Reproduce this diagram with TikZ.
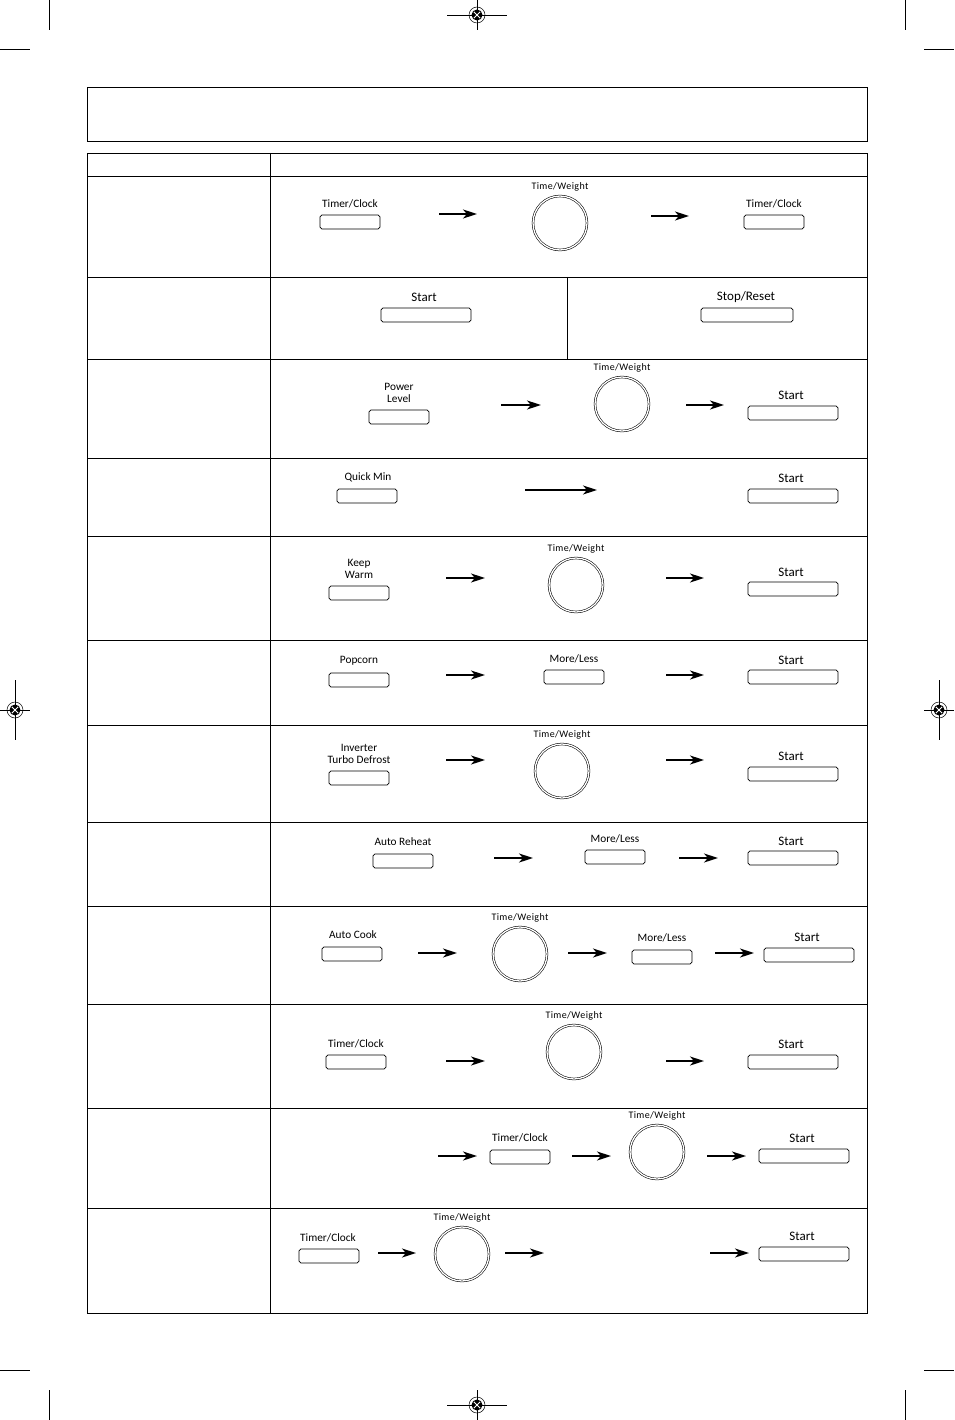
\documentclass[tikz,border=0pt]{standalone}
\usepackage{fontspec}
\setmainfont{Carlito}
\usetikzlibrary{arrows.meta}
\begin{document}
\begin{tikzpicture}[x=1pt,y=-1pt,
 btn/.style={draw, rounded corners=1.8pt, line width=0.7pt, minimum width=60pt, minimum height=14pt, inner sep=0pt},
 widebtn/.style={btn, minimum width=90pt},
 lbl/.style={font=\fontsize{11.3}{12}\selectfont, inner sep=0pt, align=center},
 slbl/.style={font=\fontsize{13}{13}\selectfont, inner sep=0pt},
 dlbl/.style={font=\fontsize{10}{10}\selectfont\addfontfeature{LetterSpace=4}, inner sep=0pt},
 dial/.style={circle, draw, double, double distance=1.3pt, line width=0.55pt, minimum size=54pt, inner sep=0pt},
 arr/.style={line width=1.7pt, -{Stealth[length=14pt,width=9pt,inset=4pt]}},
 frame/.style={line width=0.9pt},
 cropline/.style={line width=0.7pt},
 regmark/.pic={
   \draw[cropline] (-30,0) -- (30,0) (0,-15) -- (0,15);
   \draw[line width=0.5pt] (0,0) circle (8);
   \fill (0,0) circle (5.5);
   \draw[white, line width=1pt] (-3.2,-3.2) -- (3.2,3.2) (-3.2,3.2) -- (3.2,-3.2);
 },
 regmarkv/.pic={
   \draw[cropline] (-15,0) -- (15,0) (0,-30) -- (0,30);
   \draw[line width=0.5pt] (0,0) circle (8);
   \fill (0,0) circle (5.5);
   \draw[white, line width=1pt] (-3.2,-3.2) -- (3.2,3.2) (-3.2,3.2) -- (3.2,-3.2);
 },
]
\useasboundingbox (0,0) rectangle (954,1420);
% crop marks
\draw[cropline] (49,0) -- (49,30) (0,49) -- (30,49);
\draw[cropline] (905,0) -- (905,30) (924,49) -- (954,49);
\draw[cropline] (49,1390) -- (49,1420) (0,1370) -- (30,1370);
\draw[cropline] (905,1390) -- (905,1420) (924,1370) -- (954,1370);
\pic at (477,15) {regmark};
\pic at (477,1405) {regmark};
\pic at (15,710) {regmarkv};
\pic at (939,710) {regmarkv};
% frames
\draw[frame] (87,87) rectangle (867,141);
\draw[frame] (87,153) rectangle (867,1313);
\draw[frame] (270,153) -- (270,1313);
\foreach \y in {176,277,359,458,536,640,725,822,906,1004,1108,1208}
  \draw[frame] (87,\y) -- (867,\y);
\draw[frame] (567,277) -- (567,359);

% Row 1
\node[btn] (r1a) at (350,222) {};
\node[lbl] (r1al) at (350,204) {Timer/Clock};
\node[dial] (r1d) at (560,223) {};
\node[dlbl] (r1dl) at (560,187) {Time/Weight};
\node[btn] (r1b) at (774,222) {};
\node[lbl] (r1bl) at (774,204) {Timer/Clock};
\coordinate (r1p1) at (439,214); \coordinate (r1p2) at (477,214);
\coordinate (r1p3) at (651,216); \coordinate (r1p4) at (689,216);
\draw[arr] (r1p1) -- (r1p2);
\draw[arr] (r1p3) -- (r1p4);

% Row 2
\node[widebtn] (r2a) at (426,315) {};
\node[slbl] (r2al) at (424,297) {Start};
\node[widebtn, minimum width=92pt] (r2b) at (747,315) {};
\node[slbl] (r2bl) at (746,297) {Stop/Reset};

% Row 3
\node[btn] (r3a) at (399,417) {};
\node[lbl] (r3al) at (399,393) {Power\\Level};
\node[dial] (r3d) at (622,404) {};
\node[dlbl] (r3dl) at (622,368) {Time/Weight};
\node[widebtn] (r3b) at (793,413) {};
\node[slbl] (r3bl) at (791,395) {Start};
\coordinate (r3p1) at (501,405); \coordinate (r3p2) at (541,405);
\coordinate (r3p3) at (686,405); \coordinate (r3p4) at (724,405);
\draw[arr] (r3p1) -- (r3p2);
\draw[arr] (r3p3) -- (r3p4);

% Row 4
\node[btn] (r4a) at (367,496) {};
\node[lbl] (r4al) at (368,477) {Quick Min};
\node[widebtn] (r4b) at (793,496) {};
\node[slbl] (r4bl) at (791,478) {Start};
\coordinate (r4p1) at (525,490); \coordinate (r4p2) at (597,490);
\draw[arr, line width=1.3pt] (r4p1) -- (r4p2);

% Row 5
\node[btn] (r5a) at (359,593) {};
\node[lbl] (r5al) at (359,569) {Keep\\Warm};
\node[dial] (r5d) at (576,585) {};
\node[dlbl] (r5dl) at (576,549) {Time/Weight};
\node[widebtn] (r5b) at (793,589) {};
\node[slbl] (r5bl) at (791,572) {Start};
\coordinate (r5p1) at (446,578); \coordinate (r5p2) at (485,578);
\coordinate (r5p3) at (666,578); \coordinate (r5p4) at (704,578);
\draw[arr] (r5p1) -- (r5p2);
\draw[arr] (r5p3) -- (r5p4);

% Row 6
\node[btn] (r6a) at (359,680) {};
\node[lbl] (r6al) at (359,661) {Popcorn};
\node[btn] (r6m) at (574,677) {};
\node[lbl] (r6ml) at (574,659) {More/Less};
\node[widebtn] (r6b) at (793,677) {};
\node[slbl] (r6bl) at (791,660) {Start};
\coordinate (r6p1) at (446,675); \coordinate (r6p2) at (485,675);
\coordinate (r6p3) at (666,675); \coordinate (r6p4) at (704,675);
\draw[arr] (r6p1) -- (r6p2);
\draw[arr] (r6p3) -- (r6p4);

% Row 7
\node[btn] (r7a) at (359,778) {};
\node[lbl] (r7al) at (359,754) {Inverter\\Turbo Defrost};
\node[dial] (r7d) at (562,771) {};
\node[dlbl] (r7dl) at (562,735) {Time/Weight};
\node[widebtn] (r7b) at (793,774) {};
\node[slbl] (r7bl) at (791,756) {Start};
\coordinate (r7p1) at (446,760); \coordinate (r7p2) at (485,760);
\coordinate (r7p3) at (666,760); \coordinate (r7p4) at (704,760);
\draw[arr] (r7p1) -- (r7p2);
\draw[arr] (r7p3) -- (r7p4);

% Row 8
\node[btn] (r8a) at (403,861) {};
\node[lbl] (r8al) at (403,842) {Auto Reheat};
\node[btn] (r8m) at (615,857) {};
\node[lbl] (r8ml) at (615,839) {More/Less};
\node[widebtn] (r8b) at (793,858) {};
\node[slbl] (r8bl) at (791,841) {Start};
\coordinate (r8p1) at (494,858); \coordinate (r8p2) at (533,858);
\coordinate (r8p3) at (679,858); \coordinate (r8p4) at (718,858);
\draw[arr] (r8p1) -- (r8p2);
\draw[arr] (r8p3) -- (r8p4);

% Row 9
\node[btn] (r9a) at (352,954) {};
\node[lbl] (r9al) at (353,935) {Auto Cook};
\node[dial] (r9d) at (520,954) {};
\node[dlbl] (r9dl) at (520,918) {Time/Weight};
\node[btn] (r9m) at (662,957) {};
\node[lbl] (r9ml) at (662,938) {More/Less};
\node[widebtn] (r9b) at (809,955) {};
\node[slbl] (r9bl) at (807,937) {Start};
\coordinate (r9p1) at (418,953); \coordinate (r9p2) at (457,953);
\coordinate (r9p3) at (568,953); \coordinate (r9p4) at (607,953);
\coordinate (r9p5) at (715,953); \coordinate (r9p6) at (754,953);
\draw[arr] (r9p1) -- (r9p2);
\draw[arr] (r9p3) -- (r9p4);
\draw[arr] (r9p5) -- (r9p6);

% Row 10
\node[btn] (r10a) at (356,1062) {};
\node[lbl] (r10al) at (356,1044) {Timer/Clock};
\node[dial] (r10d) at (574,1052) {};
\node[dlbl] (r10dl) at (574,1016) {Time/Weight};
\node[widebtn] (r10b) at (793,1062) {};
\node[slbl] (r10bl) at (791,1044) {Start};
\coordinate (r10p1) at (446,1061); \coordinate (r10p2) at (485,1061);
\coordinate (r10p3) at (666,1061); \coordinate (r10p4) at (704,1061);
\draw[arr] (r10p1) -- (r10p2);
\draw[arr] (r10p3) -- (r10p4);

% Row 11
\node[btn] (r11a) at (520,1157) {};
\node[lbl] (r11al) at (520,1138) {Timer/Clock};
\node[dial] (r11d) at (657,1152) {};
\node[dlbl] (r11dl) at (657,1116) {Time/Weight};
\node[widebtn] (r11b) at (804,1156) {};
\node[slbl] (r11bl) at (802,1138) {Start};
\coordinate (r11p1) at (438,1156); \coordinate (r11p2) at (477,1156);
\coordinate (r11p3) at (572,1156); \coordinate (r11p4) at (611,1156);
\coordinate (r11p5) at (707,1156); \coordinate (r11p6) at (746,1156);
\draw[arr] (r11p1) -- (r11p2);
\draw[arr] (r11p3) -- (r11p4);
\draw[arr] (r11p5) -- (r11p6);

% Row 12
\node[btn] (r12a) at (329,1256) {};
\node[lbl] (r12al) at (328,1238) {Timer/Clock};
\node[dial] (r12d) at (462,1254) {};
\node[dlbl] (r12dl) at (462,1218) {Time/Weight};
\node[widebtn] (r12b) at (804,1254) {};
\node[slbl] (r12bl) at (802,1236) {Start};
\coordinate (r12p1) at (378,1253); \coordinate (r12p2) at (416,1253);
\coordinate (r12p3) at (505,1253); \coordinate (r12p4) at (544,1253);
\coordinate (r12p5) at (710,1253); \coordinate (r12p6) at (749,1253);
\draw[arr] (r12p1) -- (r12p2);
\draw[arr] (r12p3) -- (r12p4);
\draw[arr] (r12p5) -- (r12p6);
\end{tikzpicture}
\end{document}
